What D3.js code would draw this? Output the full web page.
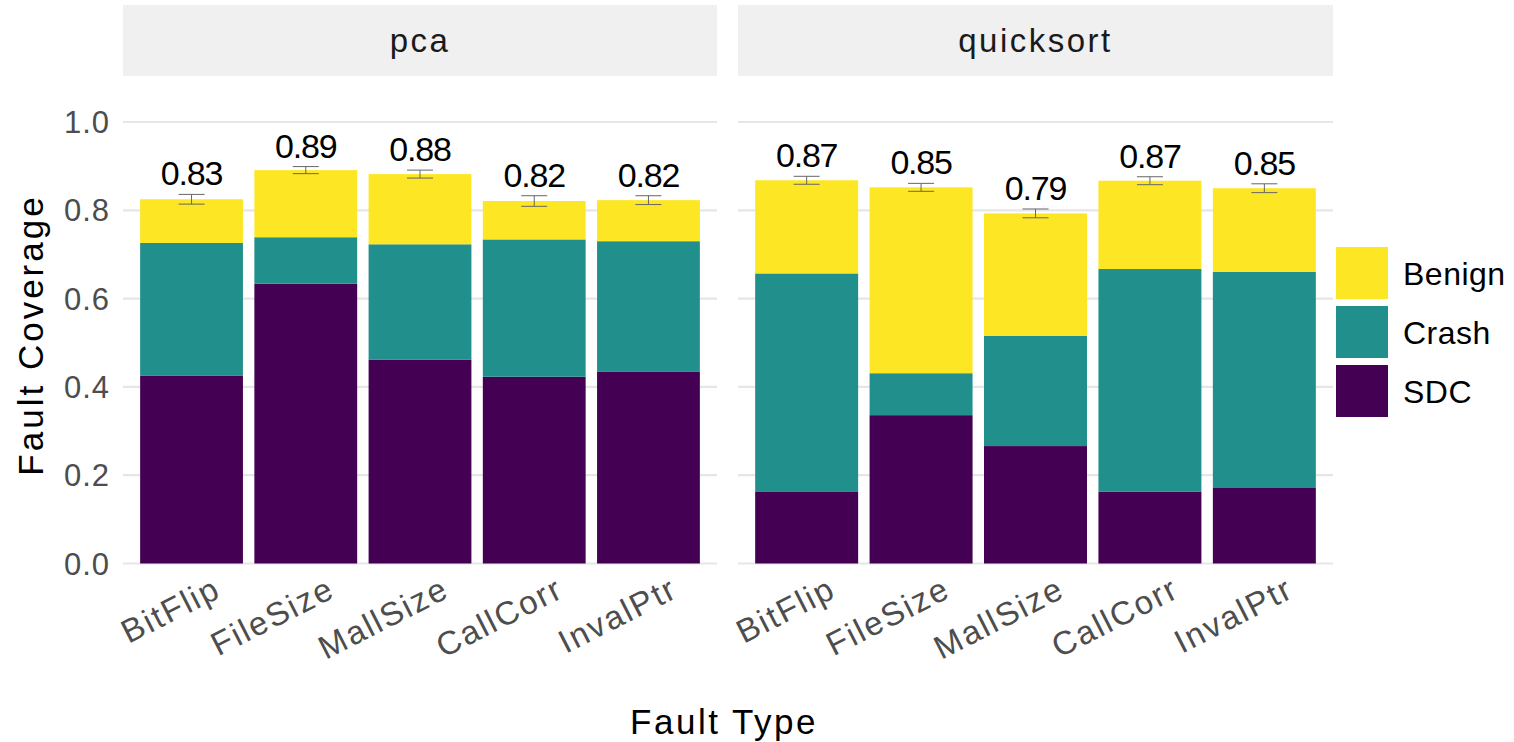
<!DOCTYPE html>
<html><head><meta charset="utf-8">
<script src="https://cdn.jsdelivr.net/npm/d3@7"></script>
<style>body{margin:0;background:#fff}svg{display:block;font-family:"Liberation Sans",Arial,sans-serif}</style>
</head><body><svg id="c" width="1514" height="742"></svg>
<script>
const panels = ["pca", "quicksort"];
const categories = ["BitFlip", "FileSize", "MallSize", "CallCorr", "InvalPtr"];
const seriesNames = ["SDC", "Crash", "Benign"];
const sdc = {pca: [0.425, 0.634, 0.462, 0.423, 0.435], quicksort: [0.162, 0.336, 0.266, 0.163, 0.171]};
const crash = {pca: [0.301, 0.105, 0.261, 0.311, 0.295], quicksort: [0.495, 0.095, 0.250, 0.504, 0.490]};
const benign = {pca: [0.099, 0.152, 0.159, 0.087, 0.093], quicksort: [0.211, 0.421, 0.277, 0.200, 0.189]};
const errs = {pca: [0.011, 0.008, 0.009, 0.012, 0.010], quicksort: [0.009, 0.009, 0.010, 0.009, 0.010]};
const labels = {pca: ["0.83", "0.89", "0.88", "0.82", "0.82"], quicksort: ["0.87", "0.85", "0.79", "0.87", "0.85"]};
const yTicks = [0, 0.2, 0.4, 0.6, 0.8, 1.0];
const colors = {SDC: "#440154", Crash: "#21908C", Benign: "#FDE725"};

const svg = d3.select("#c");
const y = d3.scaleLinear().domain([0, 1]).range([563.5, 122]);
const panelX = {pca: [123, 717], quicksort: [738, 1333]};

panels.forEach(p => {
  const [x0, x1] = panelX[p];
  const x = d3.scaleBand().domain(categories).range([x0, x1]).paddingInner(0.1).paddingOuter(0.15);
  const g = svg.append("g");
  // strip
  g.append("rect").attr("x", x0).attr("y", 5).attr("width", x1 - x0).attr("height", 71).attr("fill", "#f0f0f0");
  g.append("text").attr("x", (x0 + x1) / 2).attr("y", 52).attr("text-anchor", "middle")
    .attr("font-size", 33).attr("letter-spacing", 2.5).attr("fill", "#1a1a1a").text(p);
  // grid
  g.selectAll(".grid").data(yTicks).enter().append("line")
    .attr("x1", x0).attr("x2", x1).attr("y1", d => y(d)).attr("y2", d => y(d))
    .attr("stroke", "#e6e6e6").attr("stroke-width", 2.2);
  // stacked bars
  const rows = categories.map((c, i) => ({cat: c, SDC: sdc[p][i], Crash: crash[p][i], Benign: benign[p][i]}));
  const stack = d3.stack().keys(seriesNames)(rows);
  stack.forEach(layer => {
    g.selectAll(null).data(layer).enter().append("rect")
      .attr("x", d => x(d.data.cat)).attr("width", x.bandwidth())
      .attr("y", d => y(d[1])).attr("height", d => y(d[0]) - y(d[1]))
      .attr("fill", colors[layer.key]);
  });
  // error bars + labels
  rows.forEach((r, i) => {
    const tot = r.SDC + r.Crash + r.Benign;
    const cx = x(r.cat) + x.bandwidth() / 2;
    const e = errs[p][i];
    const eg = g.append("g").attr("stroke", "#666").attr("stroke-width", 1);
    eg.append("line").attr("x1", cx).attr("x2", cx).attr("y1", y(tot + e)).attr("y2", y(tot - e));
    eg.append("line").attr("x1", cx - 13).attr("x2", cx + 13).attr("y1", y(tot + e)).attr("y2", y(tot + e));
    eg.append("line").attr("x1", cx - 13).attr("x2", cx + 13).attr("y1", y(tot - e)).attr("y2", y(tot - e));
    g.append("text").attr("x", cx).attr("y", y(tot + e) - 9).attr("text-anchor", "middle")
      .attr("font-size", 34).attr("letter-spacing", -1.2).attr("fill", "#000").text(labels[p][i]);
  });
  // x tick labels
  categories.forEach(c => {
    const cx = x(c) + x.bandwidth() / 2;
    g.append("text").attr("transform", `translate(${cx + 20},${574}) rotate(-27)`)
      .attr("text-anchor", "end").attr("dy", "0.75em")
      .attr("font-size", 33).attr("letter-spacing", 2).attr("fill", "#4d4d4d").text(c);
  });
});

// y axis labels
svg.append("g").selectAll("text").data(yTicks).enter().append("text")
  .attr("x", 110).attr("y", d => y(d)).attr("dy", "0.36em").attr("text-anchor", "end")
  .attr("font-size", 31).attr("letter-spacing", 1).attr("fill", "#4d4d4d").text(d => d3.format(".1f")(d));

svg.append("text").attr("transform", "translate(43,335) rotate(-90)").attr("text-anchor", "middle")
  .attr("font-size", 35).attr("letter-spacing", 3).attr("fill", "#000").text("Fault Coverage");
svg.append("text").attr("x", 724).attr("y", 734).attr("text-anchor", "middle")
  .attr("font-size", 35).attr("letter-spacing", 2.5).attr("fill", "#000").text("Fault Type");

// legend
const legendOrder = ["Benign", "Crash", "SDC"];
const lg = svg.append("g");
legendOrder.forEach((k, i) => {
  lg.append("rect").attr("x", 1336).attr("y", 247 + i * 59).attr("width", 52).attr("height", 52).attr("fill", colors[k]);
  lg.append("text").attr("x", 1403).attr("y", 273 + i * 59).attr("dy", "0.36em")
    .attr("font-size", 32).attr("letter-spacing", 0.5).attr("fill", "#000").text(k);
});
</script></body></html>
